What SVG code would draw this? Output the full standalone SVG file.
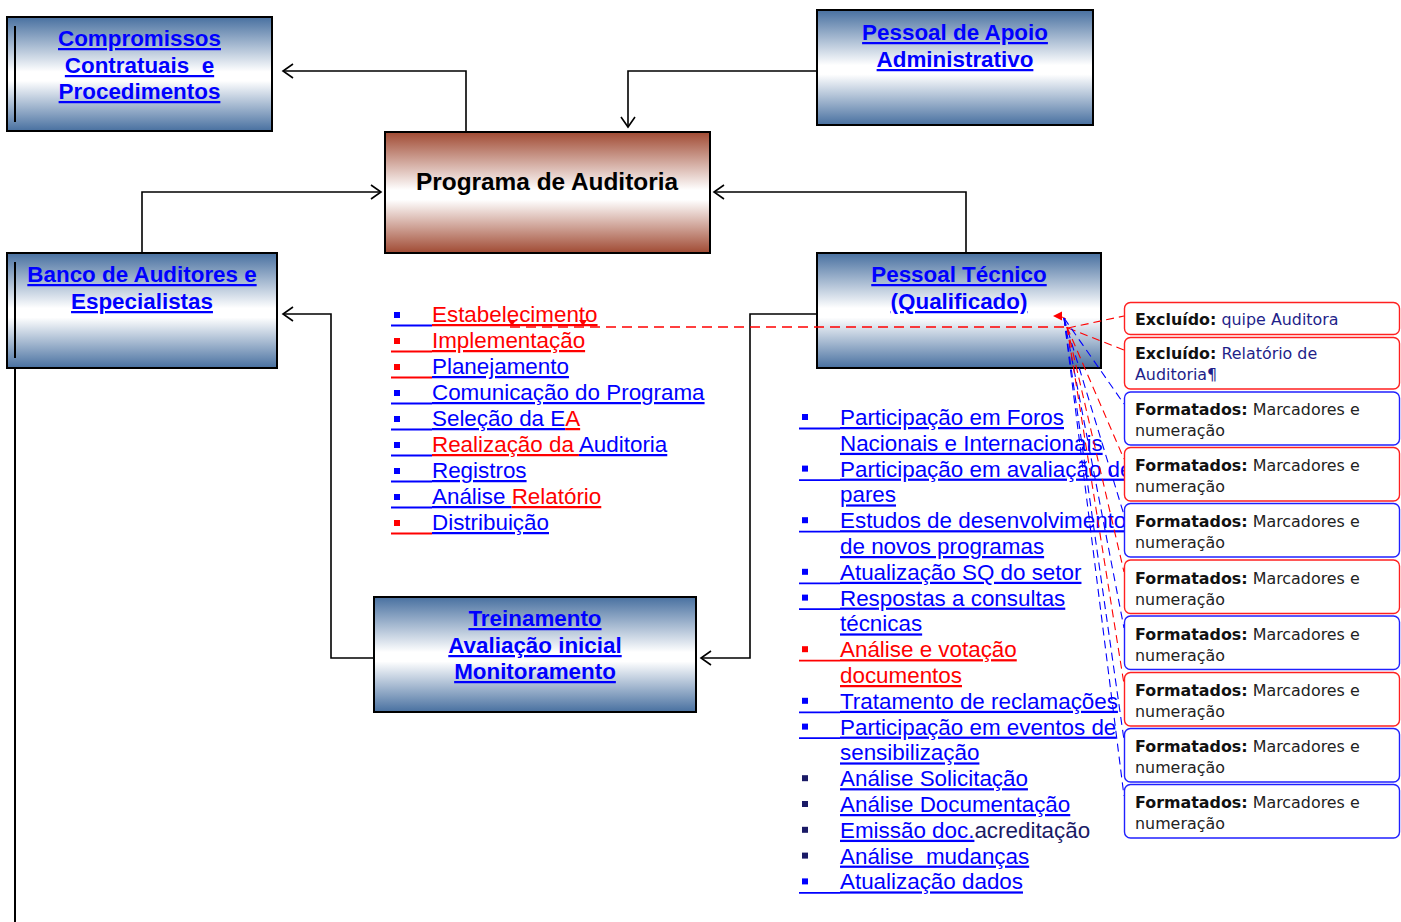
<svg xmlns="http://www.w3.org/2000/svg" width="1401" height="922" viewBox="0 0 1401 922">
  <defs>
    <linearGradient id="gBlue" x1="0" y1="0" x2="0" y2="1">
      <stop offset="0" stop-color="#4870a0"/>
      <stop offset="0.48" stop-color="#ffffff"/>
      <stop offset="0.56" stop-color="#ffffff"/>
      <stop offset="1" stop-color="#4870a0"/>
    </linearGradient>
    <linearGradient id="gBrown" x1="0" y1="0" x2="0" y2="1">
      <stop offset="0" stop-color="#a04a33"/>
      <stop offset="0.48" stop-color="#ffffff"/>
      <stop offset="0.56" stop-color="#ffffff"/>
      <stop offset="1" stop-color="#a04a33"/>
    </linearGradient>
    <marker id="arr" markerUnits="userSpaceOnUse" viewBox="-12 -9 14 18" refX="0" refY="0" markerWidth="14" markerHeight="18" orient="auto">
      <path d="M -10 -7 L 0 0 L -10 7" fill="none" stroke="#000" stroke-width="1.6"/>
    </marker>
    <style>
      .box { stroke: #000; stroke-width: 2; }
      .ttl { font-family: "Liberation Sans", Arial, sans-serif; font-weight: bold; font-size: 22.4px; fill: #0000ff; text-anchor: middle; text-decoration: underline; }
      .li { font-family: "Liberation Sans", Arial, sans-serif; font-size: 22.4px; }
      .b { fill: #0000ff; }
      .r { fill: #ff0000; }
      .n { fill: #1a1a66; }
      .u { text-decoration: underline; }
      .gb { stroke: #0000ff; stroke-width: 1.8; }
      .gr { stroke: #ff0000; stroke-width: 1.8; }
      .conn { fill: none; stroke: #000; stroke-width: 1.6; }
      .dr { fill: none; stroke: #ff0000; stroke-width: 1.1; stroke-dasharray: 8 5; }
      .db { fill: none; stroke: #0000ff; stroke-width: 1.1; stroke-dasharray: 8 5; }
      .cbr { fill: #fff; stroke: #ff2020; stroke-width: 1.4; }
      .cbb { fill: #fff; stroke: #2020ff; stroke-width: 1.4; }
      .cm { font-family: "DejaVu Sans", Verdana, sans-serif; font-size: 15.9px; fill: #222; }
      .cm .k { font-weight: bold; fill: #111; }
      .cm .nv { fill: #1f1f8a; }
    </style>
  </defs>
  <rect width="1401" height="922" fill="#fff"/>

  <!-- connectors between the main blocks -->
  <g id="connectors">
    <polyline class="conn" points="466,131 466,71 283,71" marker-end="url(#arr)"/>
    <polyline class="conn" points="817,71 628,71 628,127" marker-end="url(#arr)"/>
    <polyline class="conn" points="142,253 142,192 381,192" marker-end="url(#arr)"/>
    <polyline class="conn" points="966,253 966,192 714,192" marker-end="url(#arr)"/>
    <polyline class="conn" points="374,658 331,658 331,314 283,314" marker-end="url(#arr)"/>
    <polyline class="conn" points="817,314 750,314 750,658 701,658" marker-end="url(#arr)"/>
    <line x1="15" y1="368" x2="15" y2="922" stroke="#000" stroke-width="2"/>
  </g>

  <g id="compromissos">
    <rect class="box" x="7" y="17" width="265" height="114" fill="url(#gBlue)"/>
    <line x1="15" y1="26" x2="15" y2="122" stroke="#000" stroke-width="2"/>
    <text class="ttl" x="139.5" y="46">Compromissos</text>
    <text class="ttl" x="139.5" y="73" xml:space="preserve">Contratuais  e</text>
    <text class="ttl" x="139.5" y="99">Procedimentos</text>
  </g>

  <g id="apoio">
    <rect class="box" x="817" y="10" width="276" height="115" fill="url(#gBlue)"/>
    <text class="ttl" x="955" y="40">Pessoal de Apoio</text>
    <text class="ttl" x="955" y="67">Administrativo</text>
  </g>

  <g id="programa">
    <rect class="box" x="385" y="132" width="325" height="121" fill="url(#gBrown)"/>
    <text x="547" y="190" font-family="Liberation Sans, Arial, sans-serif" font-weight="bold" font-size="24.4" fill="#000" text-anchor="middle">Programa de Auditoria</text>
  </g>

  <g id="banco">
    <rect class="box" x="7" y="253" width="270" height="115" fill="url(#gBlue)"/>
    <line x1="15" y1="262" x2="15" y2="358" stroke="#000" stroke-width="2"/>
    <text class="ttl" x="142" y="282">Banco de Auditores e</text>
    <text class="ttl" x="142" y="309">Especialistas</text>
  </g>

  <g id="tecnico">
    <rect class="box" x="817" y="253" width="284" height="115" fill="url(#gBlue)"/>
    <text class="ttl" x="959" y="282">Pessoal Técnico</text>
    <text class="ttl" x="959" y="309">(Qualificado)</text>
  </g>

  <g id="treinamento">
    <rect class="box" x="374" y="597" width="322" height="115" fill="url(#gBlue)"/>
    <text class="ttl" x="535" y="626">Treinamento</text>
    <text class="ttl" x="535" y="653">Avaliação inicial</text>
    <text class="ttl" x="535" y="679">Monitoramento</text>
  </g>

  <!-- stages of the programme -->
  <g id="lista-programa">
    <rect class="b" x="394" y="312" width="6" height="6"/><line class="gb" x1="391" y1="325.5" x2="432" y2="325.5"/>
    <text class="li" x="432" y="322"><tspan class="r u">Estabelecimento</tspan></text>
    <rect class="r" x="394" y="338" width="6" height="6"/><line class="gr" x1="391" y1="351.5" x2="432" y2="351.5"/>
    <text class="li" x="432" y="348"><tspan class="r u">Implementação</tspan></text>
    <rect class="r" x="394" y="364" width="6" height="6"/><line class="gr" x1="391" y1="377.5" x2="432" y2="377.5"/>
    <text class="li" x="432" y="374"><tspan class="b u">Planejamento</tspan></text>
    <rect class="b" x="394" y="390" width="6" height="6"/><line class="gb" x1="391" y1="403.5" x2="432" y2="403.5"/>
    <text class="li" x="432" y="400"><tspan class="b u">Comunicação do Programa</tspan></text>
    <rect class="b" x="394" y="416" width="6" height="6"/><line class="gb" x1="391" y1="429.5" x2="432" y2="429.5"/>
    <text class="li" x="432" y="426"><tspan class="b u">Seleção da E</tspan><tspan class="r u">A</tspan></text>
    <rect class="b" x="394" y="442" width="6" height="6"/><line class="gb" x1="391" y1="455.5" x2="432" y2="455.5"/>
    <text class="li" x="432" y="452" xml:space="preserve"><tspan class="r u">Realização da </tspan><tspan class="b u">Auditoria</tspan></text>
    <rect class="b" x="394" y="468" width="6" height="6"/><line class="gb" x1="391" y1="481.5" x2="432" y2="481.5"/>
    <text class="li" x="432" y="478"><tspan class="b u">Registros</tspan></text>
    <rect class="b" x="394" y="494" width="6" height="6"/><line class="gb" x1="391" y1="507.5" x2="432" y2="507.5"/>
    <text class="li" x="432" y="504" xml:space="preserve"><tspan class="b u">Análise </tspan><tspan class="r u">Relatório</tspan></text>
    <rect class="r" x="394" y="520" width="6" height="6"/><line class="gr" x1="391" y1="533.5" x2="432" y2="533.5"/>
    <text class="li" x="432" y="530"><tspan class="b u">Distribuição</tspan></text>
  </g>

  <!-- activities of the technical staff -->
  <g id="lista-tecnico">
    <rect class="b" x="802" y="414" width="6" height="6"/><line class="gb" x1="799" y1="428.5" x2="840" y2="428.5"/>
    <text class="li" x="840" y="425"><tspan class="b u">Participação em Foros</tspan></text>
    <text class="li" x="840" y="450.8"><tspan class="b u">Nacionais e Internacionais</tspan></text>
    <rect class="b" x="802" y="465.6" width="6" height="6"/><line class="gb" x1="799" y1="480.1" x2="840" y2="480.1"/>
    <text class="li" x="840" y="476.6"><tspan class="b u">Participação em avaliação de</tspan></text>
    <text class="li" x="840" y="502.4"><tspan class="b u">pares</tspan></text>
    <rect class="b" x="802" y="517.2" width="6" height="6"/><line class="gb" x1="799" y1="531.7" x2="840" y2="531.7"/>
    <text class="li" x="840" y="528.2"><tspan class="b u">Estudos de desenvolvimento</tspan></text>
    <text class="li" x="840" y="554"><tspan class="b u">de novos programas</tspan></text>
    <rect class="b" x="802" y="568.8" width="6" height="6"/><line class="gb" x1="799" y1="583.3" x2="840" y2="583.3"/>
    <text class="li" x="840" y="579.8"><tspan class="b u">Atualização SQ do setor</tspan></text>
    <rect class="b" x="802" y="594.6" width="6" height="6"/><line class="gb" x1="799" y1="609.1" x2="840" y2="609.1"/>
    <text class="li" x="840" y="605.6"><tspan class="b u">Respostas a consultas</tspan></text>
    <text class="li" x="840" y="631.4"><tspan class="b u">técnicas</tspan></text>
    <rect class="r" x="802" y="646.2" width="6" height="6"/><line class="gr" x1="799" y1="660.7" x2="840" y2="660.7"/>
    <text class="li" x="840" y="657.2"><tspan class="r u">Análise e votação</tspan></text>
    <text class="li" x="840" y="683"><tspan class="r u">documentos</tspan></text>
    <rect class="b" x="802" y="697.8" width="6" height="6"/><line class="gb" x1="799" y1="712.3" x2="840" y2="712.3"/>
    <text class="li" x="840" y="708.8"><tspan class="b u">Tratamento de reclamações</tspan></text>
    <rect class="b" x="802" y="723.6" width="6" height="6"/><line class="gb" x1="799" y1="738.1" x2="840" y2="738.1"/>
    <text class="li" x="840" y="734.6"><tspan class="b u">Participação em eventos de</tspan></text>
    <text class="li" x="840" y="760.4"><tspan class="b u">sensibilização</tspan></text>
    <rect class="n" x="802" y="775.2" width="6" height="6"/>
    <text class="li" x="840" y="786.2"><tspan class="b u">Análise Solicitação</tspan></text>
    <rect class="n" x="802" y="801" width="6" height="6"/>
    <text class="li" x="840" y="812"><tspan class="b u">Análise Documentação</tspan></text>
    <rect class="n" x="802" y="826.8" width="6" height="6"/>
    <text class="li" x="840" y="837.8"><tspan class="b u">Emissão doc.</tspan><tspan class="n">acreditação</tspan></text>
    <rect class="n" x="802" y="852.6" width="6" height="6"/>
    <text class="li" x="840" y="863.6" xml:space="preserve"><tspan class="b u">Análise  mudanças</tspan></text>
    <rect class="b" x="802" y="878.4" width="6" height="6"/><line class="gb" x1="799" y1="892.9" x2="840" y2="892.9"/>
    <text class="li" x="840" y="889.4"><tspan class="b u">Atualização dados</tspan></text>
  </g>

  <!-- revision marks and comment leader lines -->
  <g id="revisoes">
    <line x1="510" y1="327" x2="1068" y2="327" stroke="#ff0000" stroke-width="1.3" stroke-dasharray="10 6"/>
    <path d="M508,320 L512,326 L516,320 Z" fill="#ff0000"/>
    <path d="M579,320 L583,326 L587,320 Z" fill="#ff0000"/>
    <path d="M1053,316 L1062,311.5 L1062,320.5 Z" fill="#ff0000"/>
    <line x1="1060" y1="316" x2="1066" y2="319" stroke="#ff0000" stroke-width="1"/>
    <line class="dr" x1="1068" y1="328" x2="1124" y2="316"/>
    <line class="dr" x1="1068" y1="328" x2="1124" y2="350"/>
    <line class="db" x1="1064" y1="318" x2="1124" y2="404"/>
    <line class="dr" x1="1067" y1="327" x2="1124" y2="459"/>
    <line class="db" x1="1064" y1="318" x2="1124" y2="515"/>
    <line class="dr" x1="1067" y1="327" x2="1124" y2="572"/>
    <line class="db" x1="1064" y1="318" x2="1124" y2="628"/>
    <line class="dr" x1="1067" y1="327" x2="1124" y2="684"/>
    <line class="db" x1="1064" y1="318" x2="1124" y2="740"/>
    <line class="db" x1="1064" y1="318" x2="1124" y2="796"/>
  </g>

  <!-- comment balloons -->
  <g id="comentario-1">
    <rect class="cbr" x="1124.5" y="302.5" width="275" height="32" rx="6"/>
    <text class="cm" x="1135" y="325"><tspan class="k">Excluído:</tspan><tspan class="nv"> quipe Auditora</tspan></text>
  </g>
  <g id="comentario-2">
    <rect class="cbr" x="1124.5" y="337.5" width="275" height="51.5" rx="6"/>
    <text class="cm" x="1135" y="359"><tspan class="k">Excluído:</tspan><tspan class="nv"> Relatório de</tspan></text>
    <text class="cm" x="1135" y="380"><tspan class="nv">Auditoria¶</tspan></text>
  </g>
  <g id="comentario-3">
    <rect class="cbb" x="1124.5" y="392" width="275" height="53" rx="6"/>
    <text class="cm" x="1135" y="415"><tspan class="k">Formatados:</tspan> Marcadores e</text>
    <text class="cm" x="1135" y="436">numeração</text>
  </g>
  <g id="comentario-4">
    <rect class="cbr" x="1124.5" y="447.5" width="275" height="53.5" rx="6"/>
    <text class="cm" x="1135" y="471"><tspan class="k">Formatados:</tspan> Marcadores e</text>
    <text class="cm" x="1135" y="492">numeração</text>
  </g>
  <g id="comentario-5">
    <rect class="cbb" x="1124.5" y="503.5" width="275" height="53.5" rx="6"/>
    <text class="cm" x="1135" y="527"><tspan class="k">Formatados:</tspan> Marcadores e</text>
    <text class="cm" x="1135" y="548">numeração</text>
  </g>
  <g id="comentario-6">
    <rect class="cbr" x="1124.5" y="560" width="275" height="53.5" rx="6"/>
    <text class="cm" x="1135" y="583.5"><tspan class="k">Formatados:</tspan> Marcadores e</text>
    <text class="cm" x="1135" y="604.5">numeração</text>
  </g>
  <g id="comentario-7">
    <rect class="cbb" x="1124.5" y="616" width="275" height="53.5" rx="6"/>
    <text class="cm" x="1135" y="639.5"><tspan class="k">Formatados:</tspan> Marcadores e</text>
    <text class="cm" x="1135" y="660.5">numeração</text>
  </g>
  <g id="comentario-8">
    <rect class="cbr" x="1124.5" y="672.5" width="275" height="53.5" rx="6"/>
    <text class="cm" x="1135" y="696"><tspan class="k">Formatados:</tspan> Marcadores e</text>
    <text class="cm" x="1135" y="717">numeração</text>
  </g>
  <g id="comentario-9">
    <rect class="cbb" x="1124.5" y="728.5" width="275" height="53.5" rx="6"/>
    <text class="cm" x="1135" y="752"><tspan class="k">Formatados:</tspan> Marcadores e</text>
    <text class="cm" x="1135" y="773">numeração</text>
  </g>
  <g id="comentario-10">
    <rect class="cbb" x="1124.5" y="784.5" width="275" height="53.5" rx="6"/>
    <text class="cm" x="1135" y="808"><tspan class="k">Formatados:</tspan> Marcadores e</text>
    <text class="cm" x="1135" y="829">numeração</text>
  </g>
</svg>
